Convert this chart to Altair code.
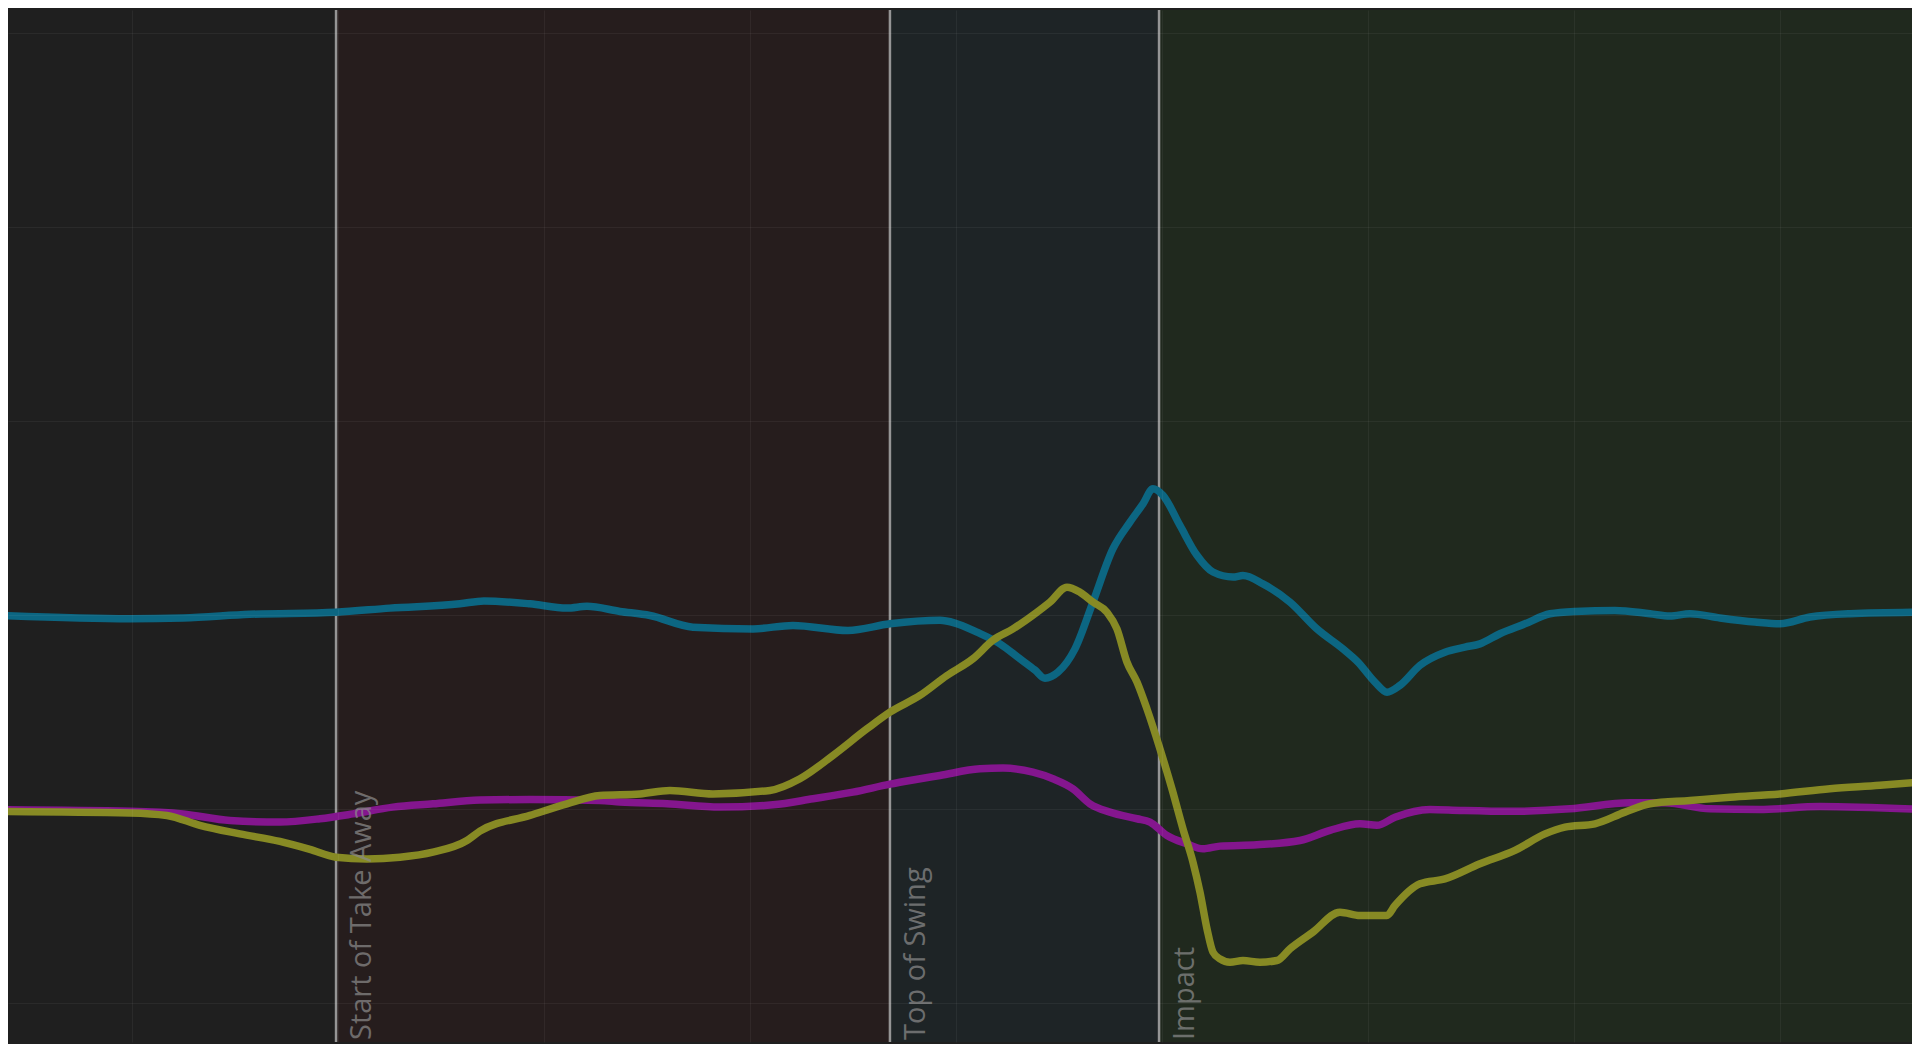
import altair as alt
import pandas as pd

# ---- data (time units, value units) ----
teal_t = [-31.96, -0.41, 12.45, 28.71, 49.57, 62.67, 79.66, 85.49, 96.65, 105.63, 110.48, 118.49, 125.77,
          136.2, 150.76, 160.47, 173.81, 184.0, 196.13, 199.77, 205.11, 210.69, 215.55, 219.18, 221.61, 224.77,
          228.9, 233.26, 238.12, 242.24, 245.4, 247.82, 250.25, 254.37, 258.5, 262.38, 267.23, 269.66, 274.51,
          281.06, 287.61, 293.92, 297.56, 301.68, 304.6, 307.75, 312.6, 318.67, 323.52, 327.16, 332.01, 338.08,
          344.15, 350.21, 359.92, 368.41, 373.27, 378.12, 385.4, 393.89, 399.96, 407.24, 416.95, 433.94]
teal_v = [9.97, 9.80, 9.84, 10.03, 10.14, 10.35, 10.57, 10.72, 10.57, 10.35, 10.44, 10.18, 9.97,
          9.37, 9.28, 9.46, 9.20, 9.54, 9.72, 9.58, 9.11, 8.51, 7.74, 7.16, 6.74, 7.05,
          8.25, 10.66, 13.41, 14.78, 15.72, 16.50, 16.16, 14.61, 13.07, 12.21, 11.95, 12.03, 11.60,
          10.66, 9.28, 8.25, 7.57, 6.54, 6.02, 6.37, 7.40, 8.08, 8.34, 8.51, 9.03, 9.54,
          10.06, 10.18, 10.23, 10.06, 9.94, 10.06, 9.84, 9.63, 9.54, 9.89, 10.06, 10.14]

magenta_t = [-31.96, -0.41, 12.45, 23.85, 35.98, 45.69, 53.70, 63.40, 73.11, 84.51, 96.65, 113.63, 118.49,
             129.89, 142.75, 155.61, 165.32, 175.02, 184.0, 188.86, 196.13, 205.84, 211.42, 218.7, 223.55,
             228.41, 232.53, 237.38, 243.94, 247.1, 251.22, 256.07, 259.93, 264.08, 273.05, 283.49, 290.77,
             298.05, 302.17, 306.54, 315.03, 322.31, 334.45, 349.0, 363.56, 372.06, 382.98, 395.11, 409.67, 433.94]
magenta_v = [-0.03, -0.11, -0.25, -0.59, -0.67, -0.50, -0.25, 0.10, 0.27, 0.46, 0.49, 0.44, 0.36,
             0.27, 0.10, 0.22, 0.53, 0.87, 1.28, 1.47, 1.73, 2.07, 2.11, 1.90, 1.56,
             1.04, 0.27, -0.16, -0.50, -0.67, -1.36, -1.79, -2.05, -1.91, -1.84, -1.62, -1.10,
             -0.76, -0.84, -0.42, -0.02, -0.07, -0.12, 0.01, 0.32, 0.32, 0.01, -0.02, 0.13, -0.02]

olive_t = [-31.96, -0.41, 8.56, 16.57, 26.28, 35.98, 43.26, 49.57, 57.1, 65.1, 73.11, 81.36, 84.51, 96.65,
           105.63, 113.63, 123.34, 130.62, 141.05, 154.88, 162.16, 170.17, 178.42, 184.0, 191.28, 197.84,
           204.14, 208.99, 213.85, 219.67, 222.83, 226.95, 230.11, 233.26, 236.66, 239.08, 241.51, 243.94,
           246.36, 249.52, 252.43, 255.1, 257.53, 259.23, 260.93, 262.38, 264.08, 266.51, 269.66, 273.78,
           277.91, 281.06, 286.64, 293.19, 298.05, 304.6, 306.54, 312.6, 318.67, 327.16, 335.66, 342.94,
           347.79, 355.07, 362.35, 368.41, 378.12, 387.83, 399.96, 412.09, 424.22, 433.94]
olive_v = [-0.12, -0.20, -0.33, -0.84, -1.28, -1.67, -2.08, -2.48, -2.57, -2.48, -2.22, -1.62, -1.14, -0.33,
           0.27, 0.70, 0.78, 0.96, 0.78, 0.96, 1.56, 2.76, 4.13, 4.99, 5.85, 6.88,
           7.74, 8.69, 9.28, 10.14, 10.66, 11.43, 11.17, 10.66, 10.14, 9.28, 7.57, 6.54,
           5.16, 3.10, 1.04, -1.02, -2.74, -4.28, -6.17, -7.37, -7.72, -7.89, -7.80, -7.89,
           -7.80, -7.20, -6.34, -5.31, -5.48, -5.48, -4.97, -3.85, -3.60, -2.82, -2.13, -1.28,
           -0.93, -0.76, -0.16, 0.27, 0.44, 0.61, 0.78, 1.04, 1.22, 1.39]

series_names = ["Series 1", "Series 2", "Series 3"]
series_colors = ["#0c6682", "#84168e", "#878a24"]

event_labels = ["Start of Take Away", "Top of Swing", "Impact"]
event_t = [49.6, 184.0, 249.3]

phase_names = ["Address", "Backswing", "Downswing", "Follow Through"]
phase_start = [-30.0, 49.6, 184.0, 249.3]
phase_end = [49.6, 184.0, 249.3, 432.0]
phase_colors = ["#1f1f1f", "#261d1d", "#1e2426", "#20291e"]

x_grid = [0, 50, 100, 150, 200, 250, 300, 350, 400]
y_grid = [-10, 0, 10, 20, 30, 40]

X_DOMAIN = [-30.0, 432.0]
Y_DOMAIN = [-12.0, 41.16]
W, H = 1904, 1032

# ---- tables ----
rows = []
for name, ts, vs in zip(series_names, [teal_t, magenta_t, olive_t], [teal_v, magenta_v, olive_v]):
    for i, (t, v) in enumerate(zip(ts, vs)):
        rows.append({"series": name, "t": t, "v": v, "i": i})
lines_df = pd.DataFrame(rows)

zones_df = pd.DataFrame({"phase": phase_names, "start": phase_start, "end": phase_end})
events_df = pd.DataFrame({"label": event_labels, "t": event_t})

xscale = alt.Scale(domain=X_DOMAIN, nice=False, zero=False)
yscale = alt.Scale(domain=Y_DOMAIN, nice=False, zero=False)

grid_axis_common = dict(grid=True, gridColor="#ffffff", gridOpacity=0.05, gridWidth=1,
                        labels=False, ticks=False, domain=False, title=None, zindex=1)

zones = alt.Chart(zones_df).mark_rect(clip=True).encode(
    x=alt.X("start:Q", scale=xscale, axis=alt.Axis(values=x_grid, **grid_axis_common)),
    x2="end:Q",
    fill=alt.Fill("phase:N", scale=alt.Scale(domain=phase_names, range=phase_colors), legend=None),
)

grid_y = alt.Chart(pd.DataFrame({"v": y_grid})).mark_rule(opacity=0).encode(
    y=alt.Y("v:Q", scale=yscale, axis=alt.Axis(values=y_grid, **grid_axis_common)),
)

rules = alt.Chart(events_df).mark_rule(color="#959595", strokeWidth=2.5).encode(
    x=alt.X("t:Q", scale=xscale),
)

lines = alt.Chart(lines_df).mark_line(strokeWidth=7.5, interpolate="monotone", clip=True,
                                      strokeCap="round", strokeJoin="round").encode(
    x=alt.X("t:Q", scale=xscale),
    y=alt.Y("v:Q", scale=yscale),
    color=alt.Color("series:N", scale=alt.Scale(domain=series_names, range=series_colors), legend=None),
    order="i:Q",
)

texts = alt.Chart(events_df).mark_text(
    angle=270, align="left", baseline="alphabetic", dx=2, dy=35,
    font="Open Sans", fontSize=29, color="#8a8a8a", opacity=0.72,
).encode(
    x=alt.X("t:Q", scale=xscale),
    y=alt.value(H),
    text="label:N",
)

chart = alt.layer(zones, grid_y, rules, lines, texts).resolve_scale(
    color="independent", fill="independent"
).properties(
    width=W, height=H, padding=0, background="#1f1f1f"
).configure_view(strokeWidth=0)

chart.save("out.html", embed_options={"renderer": "svg", "actions": False})
